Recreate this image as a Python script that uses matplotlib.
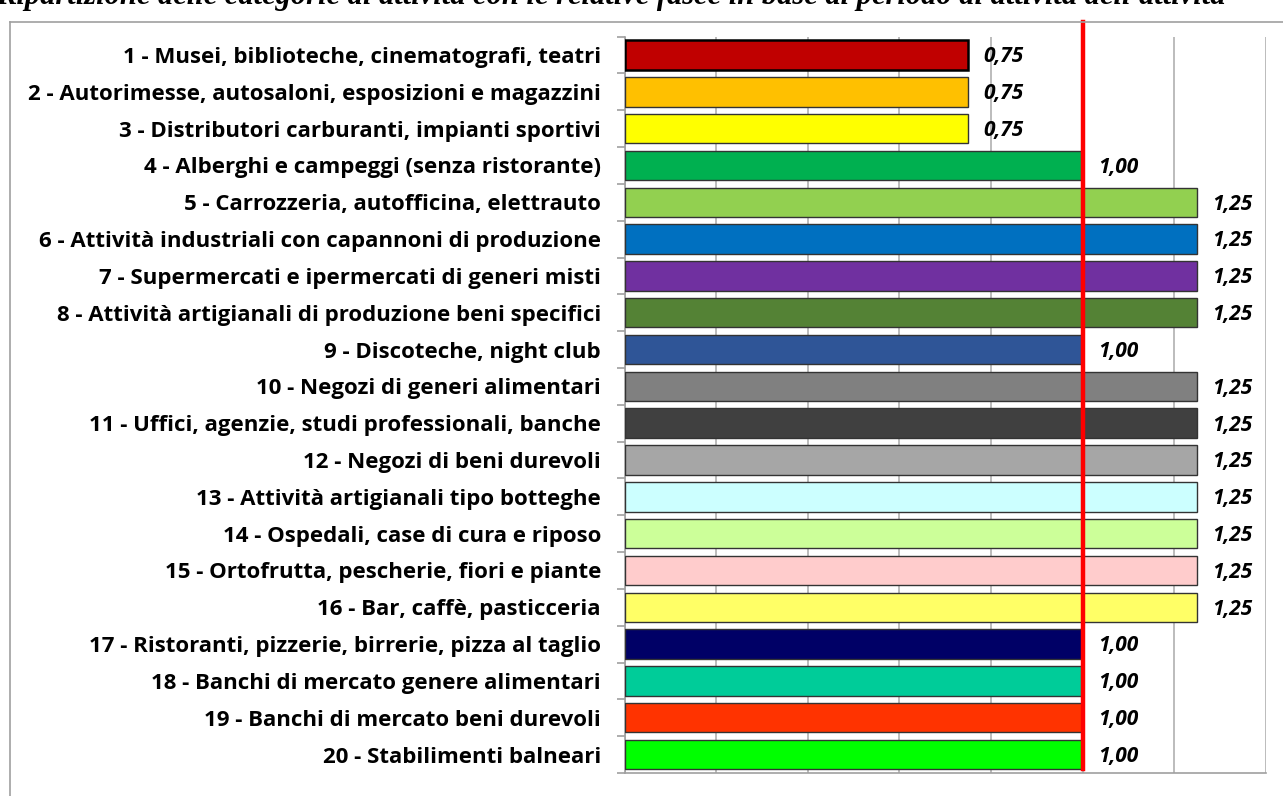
import matplotlib.pyplot as plt
from matplotlib.lines import Line2D

# categories (top to bottom) and their coefficients
categories = [
    "1 - Musei, biblioteche, cinematografi, teatri",
    "2 - Autorimesse, autosaloni, esposizioni e magazzini",
    "3 - Distributori carburanti, impianti sportivi",
    "4 - Alberghi e campeggi (senza ristorante)",
    "5 - Carrozzeria, autofficina, elettrauto",
    "6 - Attività industriali con capannoni di produzione",
    "7 - Supermercati e ipermercati di generi misti",
    "8 - Attività artigianali di produzione beni specifici",
    "9 - Discoteche, night club",
    "10 - Negozi di generi alimentari",
    "11 - Uffici, agenzie, studi professionali, banche",
    "12 - Negozi di beni durevoli",
    "13 - Attività artigianali tipo botteghe",
    "14 - Ospedali, case di cura e riposo",
    "15 - Ortofrutta, pescherie, fiori e piante",
    "16 - Bar, caffè, pasticceria",
    "17 - Ristoranti, pizzerie, birrerie, pizza al taglio",
    "18 - Banchi di mercato genere alimentari",
    "19 - Banchi di mercato beni durevoli",
    "20 - Stabilimenti balneari",
]
values = [0.75, 0.75, 0.75, 1.00, 1.25, 1.25, 1.25, 1.25, 1.00, 1.25,
          1.25, 1.25, 1.25, 1.25, 1.25, 1.25, 1.00, 1.00, 1.00, 1.00]
colors = ["#C00000", "#FFC000", "#FFFF00", "#00B050", "#92D050", "#0070C0",
          "#7030A0", "#548235", "#2F5597", "#808080", "#404040", "#A6A6A6",
          "#CCFFFF", "#CCFF99", "#FFCCCC", "#FFFF66", "#000066", "#00CC99",
          "#FF3300", "#00FF00"]
reference = 1.00
title = ("Ripartizione delle categorie di attività con le relative fasce "
         "in base al periodo di attività dell'attività")

W, H = 1283, 796
fig = plt.figure(figsize=(W / 100, H / 100), dpi=100)
ax = fig.add_axes([624.5 / W, 1 - 773 / H, (1266 - 624.5) / W, (773 - 36.6) / H])

y = list(range(len(categories)))
bars = ax.barh(y, values, height=0.8, color=colors, edgecolor="#333333",
               linewidth=1.0, zorder=3)
bars[0].set_edgecolor("black")
bars[0].set_linewidth(1.8)

for yi, v in zip(y, values):
    ax.text(v + 0.033, yi + 0.05, f"{v:.2f}".replace(".", ","), va="center",
            ha="left", fontsize=15, fontweight="bold", fontstyle="italic",
            family="Open Sans", zorder=4)

ax.set_xlim(0, 1.4)
ax.set_ylim(len(categories) - 0.5, -0.5)
ax.set_xticks([0.2 * i for i in range(8)])
ax.set_xticklabels([])
ax.tick_params(axis="x", length=0)
ax.grid(axis="x", color="#B0B0B0", linewidth=1.2, zorder=0)

ax.set_yticks(y)
ax.set_yticklabels(categories, fontsize=16, fontweight="bold",
                   family="Open Sans")
ax.set_yticks([i + 0.5 for i in range(-1, len(categories))], minor=True)
ax.tick_params(axis="y", which="major", length=0, pad=17)
ax.tick_params(axis="y", which="minor", length=6, color="#A0A0A0", width=1.2)

for s in ["top", "right"]:
    ax.spines[s].set_visible(False)
for s in ["left", "bottom"]:
    ax.spines[s].set_color("#A0A0A0")
    ax.spines[s].set_linewidth(1.2)

# red reference line at 1.00, reaching above the plot area
ax.axvline(reference, ymin=0.005, ymax=(773 - 22) / (773 - 36.6), color="red",
           linewidth=3.2, zorder=5, clip_on=False)

# chart area border (top and left edges)
fig.add_artist(Line2D([10 / W, 1], [1 - 22 / H, 1 - 22 / H], color="#A0A0A0",
                      linewidth=1.2))
fig.add_artist(Line2D([10 / W, 10 / W], [0, 1 - 22 / H], color="#A0A0A0",
                      linewidth=1.2))

# heading, cut off at the top of the picture as in the source
fig.text(-4 / W, 1 - 4 / H, title, ha="left", va="baseline", fontsize=22,
         fontweight="bold", fontstyle="italic", family="Liberation Serif")

fig.savefig("out.png", dpi=100)
